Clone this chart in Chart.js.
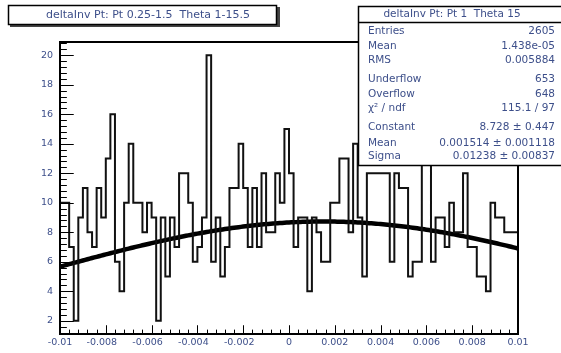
<!DOCTYPE html>
<html>
<head>
<meta charset="utf-8">
<script src="https://cdn.jsdelivr.net/npm/chart.js@4/dist/chart.umd.min.js"></script>
<style>
  html, body { margin: 0; padding: 0; background: #ffffff; }
  canvas { display: block; }
</style>
</head>
<body>
<canvas id="c" width="561" height="353"></canvas>
<script>
// Histogram: delta(1/pT) residuals, 100 bins between -0.01 and 0.01
const histTitle = 'deltaInv Pt: Pt 0.25-1.5  Theta 1-15.5';
const statsTitle = 'deltaInv Pt: Pt 1  Theta 15';
const xMin = -0.01;
const xMax = 0.01;
const binCounts = [
   7, 10, 10,  7,  2,  9, 11,  8,  7, 11,
   9, 13, 16,  6,  4, 10, 14, 10, 10,  8,
  10,  9,  2,  9,  5,  9,  7, 12, 12, 10,
   6,  7,  9, 20,  6,  9,  5,  7, 11, 11,
  14, 11,  7, 11,  7, 12,  8,  8, 12, 10,
  15, 12,  7,  9,  9,  4,  9,  8,  6,  6,
  10, 10, 13, 13,  8, 14,  9,  5, 12, 12,
  12, 12, 12,  6, 12, 11, 11,  5,  6,  6,
  13, 13,  6,  9,  9,  7, 10,  8,  8, 12,
   7,  7,  5,  5,  4, 10,  9,  9,  8,  8
];

// Axis ticks and labels
const xTickValues = [-0.01, -0.008, -0.006, -0.004, -0.002, 0, 0.002, 0.004, 0.006, 0.008, 0.01];
const xTickLabels = ['-0.01', '-0.008', '-0.006', '-0.004', '-0.002', '0', '0.002', '0.004', '0.006', '0.008', '0.01'];
const xMinorStep = 0.0004;
const yTickValues = [2, 4, 6, 8, 10, 12, 14, 16, 18, 20];
const yTickLabels = ['2', '4', '6', '8', '10', '12', '14', '16', '18', '20'];
const yMinorStep = 0.4;
const yLow = 1.1;
const yHigh = 20.9;

// Gaussian fit parameters (as listed in the statistics box)
const fitConstant = 8.728;
const fitMean = 0.001514;
const fitSigma = 0.01238;

// Statistics box rows
const statsLabels = ['Entries', 'Mean', 'RMS', 'Underflow', 'Overflow', '\u03C7\u00B2 / ndf', 'Constant', 'Mean', 'Sigma'];
const statsValues = ['2605', '1.438e-05', '0.005884', '653', '648', '115.1 / 97', '8.728 \u00B1 0.447', '0.001514 \u00B1 0.001118', '0.01238 \u00B1 0.00837'];

// Build step outline points: one point per bin low edge, plus the upper edge
const nBins = binCounts.length;
const binWidth = (xMax - xMin) / nBins;
const histPoints = binCounts.map((c, i) => ({ x: xMin + i * binWidth, y: c }));
histPoints.push({ x: xMax, y: binCounts[nBins - 1] });

// Fit curve sampled across the axis range
const fitPoints = [];
const fitSamples = 200;
for (let i = 0; i <= fitSamples; i++) {
  const x = xMin + (xMax - xMin) * i / fitSamples;
  const z = (x - fitMean) / fitSigma;
  fitPoints.push({ x: x, y: fitConstant * Math.exp(-0.5 * z * z) });
}

const FONT = '"DejaVu Sans", "Liberation Sans", Arial, sans-serif';
const TEXT_COLOR = '#3d4f8a';

// Frame, inward ticks, x labels, title box and stats box in ROOT style
const rootDecor = {
  id: 'rootDecor',
  afterDatasetsDraw(chart) {
    const ctx = chart.ctx;
    const a = chart.chartArea;
    const xs = chart.scales.x;
    const ys = chart.scales.y;
    const h = a.bottom - a.top;
    const w = a.right - a.left;
    ctx.save();
    ctx.strokeStyle = '#000';
    ctx.lineWidth = 1;
    // x ticks
    for (let v = xMin; v <= xMax + 1e-9; v += xMinorStep) {
      const px = Math.round(xs.getPixelForValue(v)) + 0.5;
      const major = xTickValues.some(t => Math.abs(t - v) < 1e-7);
      const len = major ? 0.03 * h : 0.015 * h;
      ctx.beginPath();
      ctx.moveTo(px, a.bottom);
      ctx.lineTo(px, a.bottom - len);
      ctx.stroke();
    }
    // y ticks
    for (let v = yTickValues[0] - 2 * yMinorStep; v <= yHigh + 1e-9; v += yMinorStep) {
      if (v < yLow) continue;
      const py = Math.round(ys.getPixelForValue(v)) + 0.5;
      const major = yTickValues.some(t => Math.abs(t - v) < 1e-6);
      const len = major ? 0.03 * w : 0.015 * w;
      ctx.beginPath();
      ctx.moveTo(a.left, py);
      ctx.lineTo(a.left + len, py);
      ctx.stroke();
    }
    // frame
    ctx.lineWidth = 2;
    ctx.strokeRect(a.left, a.top, w, h);

    // x labels (negative labels sit slightly left of their tick)
    ctx.fillStyle = TEXT_COLOR;
    ctx.font = '9.5px ' + FONT;
    ctx.textAlign = 'center';
    ctx.textBaseline = 'middle';
    xTickValues.forEach((v, k) => {
      const shift = (v < 0 && k > 0) ? -4 : 0;
      ctx.fillText(xTickLabels[k], xs.getPixelForValue(v) + shift, a.bottom + 9);
    });
    ctx.restore();
  },
  afterDraw(chart) {
    const ctx = chart.ctx;
    ctx.save();
    // title box with shadow
    ctx.fillStyle = '#444';
    ctx.fillRect(10, 7, 270, 20);
    ctx.fillStyle = '#fff';
    ctx.fillRect(8, 5, 269, 20);
    ctx.strokeStyle = '#000';
    ctx.lineWidth = 1.5;
    ctx.strokeRect(8.5, 5.5, 268, 19);
    ctx.fillStyle = TEXT_COLOR;
    ctx.font = '11px ' + FONT;
    ctx.textAlign = 'center';
    ctx.textBaseline = 'middle';
    ctx.fillText(histTitle, 148, 15.5);

    // statistics box
    const bx = 358, by = 6, bw = 210, bh = 159;
    ctx.fillStyle = '#fff';
    ctx.fillRect(bx, by, bw, bh);
    ctx.lineWidth = 1.5;
    ctx.strokeStyle = '#000';
    ctx.strokeRect(bx + 0.5, by + 0.5, bw, bh);
    ctx.beginPath();
    ctx.moveTo(bx, 22.5);
    ctx.lineTo(bx + bw, 22.5);
    ctx.stroke();
    ctx.fillStyle = TEXT_COLOR;
    ctx.font = '10.5px ' + FONT;
    ctx.textAlign = 'center';
    ctx.fillText(statsTitle, 452, 14.5);
    const rowY = [31, 46, 60.5, 79, 94, 108.5, 127.5, 143, 156.5];
    for (let i = 0; i < statsLabels.length; i++) {
      ctx.textAlign = 'left';
      ctx.fillText(statsLabels[i], 368, rowY[i]);
      ctx.textAlign = 'right';
      ctx.fillText(statsValues[i], 555, rowY[i]);
    }
    ctx.restore();
  }
};

new Chart(document.getElementById('c'), {
  type: 'line',
  data: {
    datasets: [
      {
        label: 'histogram',
        data: histPoints,
        stepped: 'after',
        borderColor: '#111',
        borderWidth: 2,
        pointRadius: 0,
        fill: false
      },
      {
        label: 'gaus fit',
        data: fitPoints,
        borderColor: '#000',
        borderWidth: 4.5,
        pointRadius: 0,
        tension: 0,
        fill: false
      }
    ]
  },
  options: {
    responsive: false,
    devicePixelRatio: 1,
    animation: false,
    layout: { padding: { left: 0, top: 42, right: 43, bottom: 0 } },
    plugins: { legend: { display: false }, tooltip: { enabled: false }, title: { display: false } },
    scales: {
      x: {
        type: 'linear',
        min: xMin,
        max: xMax,
        afterBuildTicks(scale) { scale.ticks = xTickValues.map(v => ({ value: v })); },
        afterFit(scale) { scale.height = 19; },
        ticks: { display: false },
        grid: { display: false, drawTicks: false },
        border: { display: false }
      },
      y: {
        type: 'linear',
        min: yLow,
        max: yHigh,
        afterBuildTicks(scale) { scale.ticks = yTickValues.map(v => ({ value: v })); },
        afterFit(scale) { scale.width = 60; },
        ticks: {
          autoSkip: false,
          padding: 7,
          color: TEXT_COLOR,
          font: { family: FONT, size: 9.5 },
          callback(value) {
            const k = yTickValues.indexOf(value);
            return k >= 0 ? yTickLabels[k] : '';
          }
        },
        grid: { display: false, drawTicks: false },
        border: { display: false }
      }
    }
  },
  plugins: [rootDecor]
});
</script>
</body>
</html>
